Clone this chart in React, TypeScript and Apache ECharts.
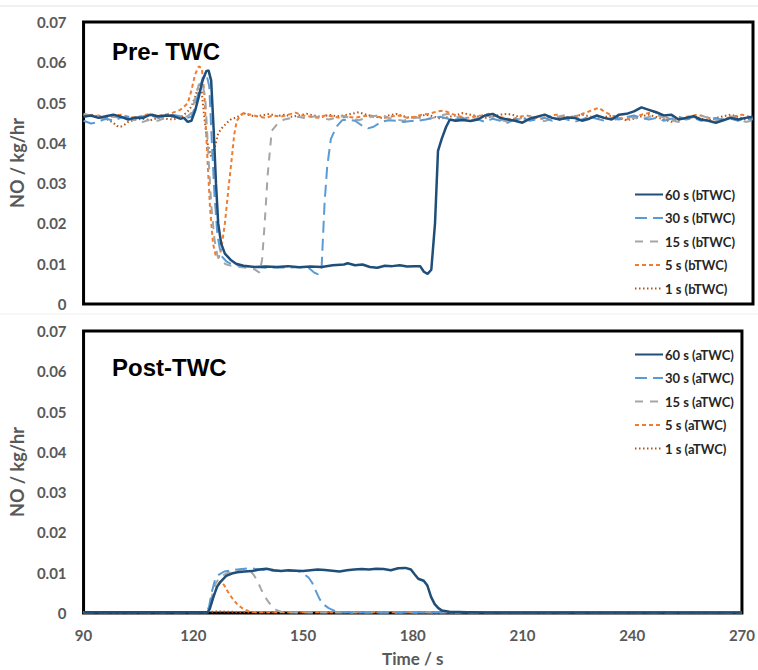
import React, { useEffect, useRef } from "react";
import * as echarts from "echarts";

type P = [number, number];

const xTicks = { min: 90, max: 270, interval: 30 };
const yTicks = { min: 0, max: 0.07, interval: 0.01 };

const panelTitles = ["Pre- TWC", "Post-TWC"];
const namesB = ["60 s (bTWC)", "30 s (bTWC)", "15 s (bTWC)", "5 s (bTWC)", "1 s (bTWC)"];
const namesA = ["60 s (aTWC)", "30 s (aTWC)", "15 s (aTWC)", "5 s (aTWC)", "1 s (aTWC)"];

// ---- Pre-TWC (bTWC) ----
const b60: P[] = [
  [90,0.0465],[92,0.0468],[94,0.0462],[96,0.0466],[98,0.0470],[100,0.0465],[102,0.0458],[104,0.0463],[106,0.0462],[108,0.0470],[110,0.0466],[112,0.0468],[114,0.0467],[116,0.0460],[117,0.0462],[118,0.0452],[119,0.0455],[120,0.0480],[121,0.0515],[122,0.0555],[123,0.0578],[123.6,0.0580],[124.3,0.0555],[125,0.0430],[125.6,0.0300],[126.2,0.0200],[127,0.0150],[128,0.0125],[129.5,0.0110],[131,0.0100],[133,0.0095],[136,0.0092],[139,0.0093],[142,0.0092],[145,0.0094],[148,0.0091],[151,0.0093],[154,0.0092],[157,0.0096],[160,0.0098],[161,0.0101],[163,0.0096],[165,0.0098],[167,0.0092],[169,0.0090],[171,0.0095],[173,0.0094],[175,0.0096],[177,0.0093],[179,0.0094],[180.5,0.0094],[181.5,0.0080],[182.5,0.0075],[183.5,0.0085],[184.5,0.0200],[185.3,0.0380],[186.3,0.0410],[187.5,0.0440],[188.5,0.0458],[190,0.0455],[192,0.0457],[194,0.0454],[196,0.0458],[198,0.0468],[200,0.0472],[202,0.0462],[204,0.0458],[206,0.0455],[208,0.0450],[210,0.0460],[212,0.0465],[214,0.0470],[216,0.0462],[218,0.0458],[220,0.0463],[222,0.0462],[224,0.0455],[226,0.0460],[228,0.0468],[230,0.0462],[232,0.0458],[234,0.0470],[236,0.0472],[238,0.0478],[240,0.0488],[242,0.0482],[244,0.0476],[246,0.0468],[248,0.0470],[250,0.0458],[252,0.0462],[254,0.0466],[256,0.0458],[258,0.0455],[260,0.0450],[262,0.0456],[264,0.0462],[266,0.0458],[268,0.0462],[270,0.0465],
];
const b30: P[] = [
  [90,0.0455],[92,0.0448],[94,0.0452],[96,0.0460],[98,0.0455],[100,0.0462],[102,0.0465],[104,0.0460],[106,0.0466],[108,0.0468],[110,0.0462],[112,0.0465],[114,0.0470],[116,0.0466],[118,0.0462],[119,0.0465],[120,0.0490],[121,0.0530],[122,0.0560],[123,0.0572],[123.8,0.0540],[124.5,0.0400],[125.2,0.0270],[126,0.0170],[127,0.0120],[128.5,0.0105],[130,0.0098],[133,0.0094],[136,0.0092],[139,0.0090],[142,0.0091],[145,0.0090],[148,0.0092],[150.5,0.0090],[152,0.0078],[153,0.0074],[154,0.0090],[154.8,0.0250],[155.5,0.0340],[156.5,0.0410],[158,0.0440],[159.5,0.0456],[161,0.0458],[163,0.0455],[165,0.0442],[166.5,0.0436],[168,0.0440],[170,0.0452],[172,0.0456],[174,0.0455],[176,0.0452],[178,0.0454],[180,0.0455],[182,0.0458],[184,0.0462],[186,0.0465],[188,0.0460],[190,0.0458],[192,0.0462],[194,0.0455],[196,0.0458],[198,0.0452],[200,0.0460],[202,0.0455],[204,0.0450],[206,0.0458],[208,0.0462],[210,0.0455],[212,0.0458],[214,0.0462],[216,0.0455],[218,0.0462],[220,0.0458],[222,0.0452],[224,0.0458],[226,0.0465],[228,0.0460],[230,0.0455],[232,0.0462],[234,0.0458],[236,0.0464],[238,0.0468],[240,0.0462],[242,0.0458],[244,0.0462],[246,0.0455],[248,0.0460],[250,0.0465],[252,0.0458],[254,0.0462],[256,0.0455],[258,0.0458],[260,0.0462],[262,0.0456],[264,0.0460],[266,0.0455],[268,0.0462],[270,0.0458],
];
const b15: P[] = [
  [90,0.0472],[92,0.0468],[94,0.0462],[96,0.0458],[98,0.0465],[100,0.0462],[102,0.0460],[104,0.0456],[106,0.0452],[108,0.0458],[110,0.0455],[112,0.0462],[114,0.0465],[116,0.0462],[118,0.0466],[119,0.0475],[120,0.0510],[121,0.0545],[122,0.0550],[122.8,0.0500],[123.5,0.0380],[124.3,0.0250],[125.2,0.0160],[126,0.0120],[127,0.0105],[128.5,0.0098],[130,0.0094],[132,0.0092],[134,0.0090],[136,0.0086],[137.3,0.0078],[138,0.0110],[138.7,0.0200],[139.5,0.0320],[140.6,0.0430],[142.4,0.0450],[144,0.0458],[146,0.0462],[148,0.0465],[150,0.0460],[152,0.0466],[154,0.0462],[156,0.0458],[158,0.0463],[160,0.0467],[162,0.0460],[164,0.0456],[166,0.0462],[168,0.0466],[170,0.0470],[172,0.0462],[174,0.0458],[176,0.0455],[178,0.0460],[180,0.0463],[182,0.0458],[184,0.0462],[186,0.0468],[188,0.0472],[190,0.0466],[192,0.0460],[194,0.0456],[196,0.0462],[198,0.0468],[200,0.0464],[202,0.0458],[204,0.0452],[206,0.0456],[208,0.0462],[210,0.0466],[212,0.0458],[214,0.0454],[216,0.0460],[218,0.0466],[220,0.0470],[222,0.0464],[224,0.0458],[226,0.0462],[228,0.0468],[230,0.0462],[232,0.0456],[234,0.0460],[236,0.0466],[238,0.0462],[240,0.0458],[242,0.0464],[244,0.0470],[246,0.0462],[248,0.0456],[250,0.0452],[252,0.0458],[254,0.0464],[256,0.0468],[258,0.0462],[260,0.0456],[262,0.0460],[264,0.0466],[266,0.0460],[268,0.0452],[270,0.0456],
];
const b5: P[] = [
  [90,0.0470],[92,0.0466],[94,0.0468],[96,0.0462],[98,0.0466],[100,0.0470],[102,0.0465],[104,0.0462],[106,0.0468],[108,0.0472],[110,0.0466],[112,0.0470],[114,0.0475],[116,0.0482],[117,0.0490],[118,0.0498],[119,0.0530],[120,0.0570],[121,0.0590],[121.8,0.0585],[122.5,0.0520],[123.2,0.0380],[124,0.0240],[124.8,0.0150],[125.6,0.0118],[126.3,0.0114],[127,0.0135],[128,0.0200],[129,0.0290],[129.8,0.0357],[130.5,0.0420],[131.2,0.0455],[132,0.0465],[133,0.0474],[135,0.0470],[137,0.0465],[139,0.0462],[141,0.0468],[143,0.0465],[145,0.0470],[147,0.0475],[149,0.0468],[151,0.0465],[153,0.0462],[155,0.0468],[157,0.0466],[159,0.0462],[161,0.0465],[163,0.0462],[165,0.0466],[167,0.0468],[169,0.0465],[171,0.0462],[173,0.0466],[175,0.0468],[177,0.0462],[179,0.0465],[181,0.0470],[183,0.0472],[185,0.0478],[187,0.0480],[189,0.0472],[191,0.0466],[193,0.0462],[195,0.0465],[197,0.0468],[199,0.0472],[201,0.0466],[203,0.0462],[205,0.0458],[207,0.0464],[209,0.0468],[211,0.0465],[213,0.0460],[215,0.0464],[217,0.0470],[219,0.0466],[221,0.0462],[223,0.0468],[225,0.0475],[227,0.0482],[228.5,0.0487],[230,0.0478],[232,0.0468],[234,0.0462],[236,0.0458],[238,0.0464],[240,0.0470],[242,0.0474],[243.6,0.0477],[245,0.0468],[247,0.0462],[249,0.0458],[251,0.0462],[253,0.0466],[255,0.0470],[257,0.0465],[259,0.0460],[261,0.0456],[263,0.0462],[265,0.0466],[267,0.0470],[269,0.0465],[270,0.0462],
];
const b1: P[] = [
  [90,0.0468],[92,0.0470],[94,0.0465],[96,0.0460],[98,0.0450],[99,0.0442],[100,0.0440],[101,0.0445],[102,0.0452],[104,0.0458],[106,0.0460],[108,0.0456],[110,0.0462],[112,0.0460],[114,0.0458],[116,0.0462],[117,0.0470],[118,0.0478],[119,0.0490],[120,0.0515],[121,0.0543],[121.8,0.0525],[122.5,0.0460],[123.3,0.0400],[124.3,0.0366],[125.2,0.0385],[126.2,0.0424],[127.5,0.0440],[128.8,0.0452],[129.8,0.0460],[131,0.0462],[132,0.0468],[133,0.0474],[134,0.0470],[136,0.0466],[138,0.0468],[140,0.0472],[142,0.0466],[144,0.0470],[146,0.0465],[148,0.0468],[150,0.0472],[152,0.0468],[154,0.0464],[156,0.0470],[158,0.0466],[160,0.0468],[162,0.0472],[164,0.0476],[166,0.0470],[168,0.0465],[170,0.0462],[172,0.0468],[174,0.0472],[176,0.0466],[178,0.0462],[180,0.0465],[182,0.0470],[184,0.0466],[186,0.0460],[188,0.0464],[190,0.0468],[192,0.0474],[194,0.0470],[196,0.0466],[198,0.0462],[200,0.0465],[202,0.0470],[204,0.0472],[206,0.0468],[208,0.0462],[210,0.0458],[212,0.0464],[214,0.0468],[216,0.0462],[218,0.0458],[220,0.0462],[222,0.0466],[224,0.0470],[226,0.0466],[228,0.0460],[230,0.0464],[232,0.0468],[234,0.0462],[236,0.0456],[238,0.0460],[240,0.0466],[242,0.0470],[244,0.0464],[246,0.0458],[248,0.0452],[250,0.0458],[252,0.0462],[254,0.0466],[256,0.0460],[258,0.0456],[260,0.0462],[262,0.0466],[264,0.0470],[266,0.0464],[268,0.0458],[270,0.0462],
];

// ---- Post-TWC (aTWC) ----
const a60: P[] = [
  [90,0.0002],[100,0.0002],[110,0.0002],[120,0.0002],[124,0.0002],[124.5,0.0010],[125.5,0.0040],[126.5,0.0065],[127.5,0.0078],[129,0.0092],[130.5,0.0098],[132,0.0101],[134,0.0103],[136,0.0104],[138,0.0108],[140,0.0110],[142,0.0106],[144,0.0104],[146,0.0106],[148,0.0105],[150,0.0104],[152,0.0106],[154,0.0108],[156,0.0107],[158,0.0105],[160,0.0103],[162,0.0106],[164,0.0108],[166,0.0109],[168,0.0108],[170,0.0110],[172,0.0109],[174,0.0106],[176,0.0111],[178,0.0112],[179.5,0.0108],[180.5,0.0096],[181.5,0.0085],[183,0.0080],[184,0.0068],[185,0.0040],[186,0.0022],[187,0.0012],[188,0.0006],[190,0.0003],[195,0.0002],[200,0.0001],[270,0.0001],
];
const a30: P[] = [
  [90,0.0002],[110,0.0002],[123.5,0.0002],[124.3,0.0015],[125,0.0050],[126,0.0085],[127,0.0095],[128.5,0.0103],[130,0.0105],[132,0.0108],[134,0.0110],[136,0.0111],[138,0.0108],[140,0.0106],[142,0.0105],[144,0.0104],[146,0.0104],[148,0.0105],[149.5,0.0102],[150.5,0.0095],[151.5,0.0088],[152.5,0.0075],[153.5,0.0055],[154.5,0.0035],[155.5,0.0022],[157,0.0012],[158.5,0.0006],[160,0.0002],[165,0.0001],[270,0.0001],
];
const a15: P[] = [
  [90,0.0002],[110,0.0002],[123.8,0.0002],[124.3,0.0010],[125.2,0.0045],[126.2,0.0075],[127.5,0.0090],[129,0.0098],[131,0.0104],[133,0.0108],[134.5,0.0110],[135.5,0.0105],[136.5,0.0095],[137.5,0.0080],[138.5,0.0060],[139.5,0.0042],[140.5,0.0028],[141.5,0.0016],[142.8,0.0007],[144,0.0003],[146,0.0001],[270,0.0001],
];
const a5: P[] = [
  [90,0.0002],[110,0.0002],[123.8,0.0002],[124.2,0.0005],[125,0.0025],[126,0.0055],[127,0.0074],[127.6,0.0078],[128.5,0.0068],[129.5,0.0052],[130.7,0.0036],[132,0.0022],[133.4,0.0012],[135,0.0005],[137,0.0002],[270,0.0002],
];
const a1: P[] = [
  [90,0.0002],[120,0.0002],[124,0.0002],[126,0.0004],[130,0.0003],[135,0.0002],[270,0.0002],
];

const colors = ["#1F4E79", "#5B9BD5", "#A5A5A5", "#ED7D31", "#B4561A"];
const dashes: any[] = ["solid", [12, 6], [8, 7], [4, 3], [1.5, 2.5]];
const widths = [2.5, 2, 2, 2, 2];

const FONT = "Lato, 'Open Sans', sans-serif";
const GRAY = "#595959";

export default function App() {
  const ref = useRef<HTMLDivElement>(null);
  useEffect(() => {
    if (!ref.current) return;
    const chart = echarts.init(ref.current, null, { renderer: "svg" });
    const topData = [b60, b30, b15, b5, b1];
    const botData = [a60, a30, a15, a5, a1];
    const mk = (names: string[], datas: P[][], idx: number) =>
      datas.map((d, i) => ({
        name: names[i],
        type: "line",
        xAxisIndex: idx,
        yAxisIndex: idx,
        data: d,
        symbol: "none",
        smooth: false,
        z: 10 - i,
        lineStyle: { color: colors[i], width: widths[i], type: dashes[i], cap: "butt" },
        itemStyle: { color: colors[i] },
      }));
    const gridTop = [22, 331];
    const legendTops = [183, 343];
    const option: any = {
      animation: false,
      textStyle: { fontFamily: FONT },
      title: panelTitles.map((t, i) => ({
        text: t,
        left: 107,
        top: i === 0 ? 34 : 350,
        textStyle: { fontFamily: "'Liberation Sans', Arial, sans-serif", fontWeight: "bold", fontSize: 24, color: "#000" },
      })),
      graphic: [
        { type: "line", shape: { x1: 0, y1: 6, x2: 758, y2: 6 }, style: { stroke: "#e2e2e2", lineWidth: 1 } },
        { type: "line", shape: { x1: 0, y1: 314, x2: 758, y2: 314 }, style: { stroke: "#f0f0f0", lineWidth: 1 } },
      ],
      legend: [namesB, namesA].map((names, i) => ({
        data: names,
        orient: "vertical",
        left: 629,
        top: legendTops[i],
        itemWidth: 28,
        itemHeight: 14,
        itemGap: 10.5,
        itemStyle: { opacity: 0 },
        textStyle: { fontFamily: FONT, fontWeight: "bold", fontSize: 13, color: "#262626", padding: [0, 0, 0, -3] },
        selectedMode: false,
      })),
      grid: gridTop.map((t) => ({
        left: 82,
        width: 671,
        top: t,
        height: 282,
        show: true,
        borderColor: "#000",
        borderWidth: 3,
        backgroundColor: "transparent",
        containLabel: false,
      })),
      xAxis: [0, 1].map((i) => ({
        type: "value",
        gridIndex: i,
        min: xTicks.min,
        max: xTicks.max,
        interval: xTicks.interval,
        axisLine: { show: false },
        axisTick: { show: false },
        splitLine: { show: false },
        axisLabel: { show: i === 1, fontFamily: FONT, fontWeight: "bold", fontSize: 15, color: GRAY, margin: 14 },
        name: i === 1 ? "Time / s" : "",
        nameLocation: "middle",
        nameGap: 37,
        nameTextStyle: { fontFamily: FONT, fontWeight: "bold", fontSize: 17, color: GRAY },
      })),
      yAxis: [0, 1].map((i) => ({
        type: "value",
        gridIndex: i,
        min: yTicks.min,
        max: yTicks.max,
        interval: yTicks.interval,
        axisLine: { show: false },
        axisTick: { show: false },
        splitLine: { show: false },
        axisLabel: {
          fontFamily: FONT,
          fontWeight: "bold",
          fontSize: 15,
          color: GRAY,
          margin: 17,
          formatter: (v: number) => (v === 0 ? "0" : v.toFixed(2)),
        },
        name: "NO / kg/hr",
        nameLocation: "middle",
        nameGap: 45,
        nameTextStyle: { fontFamily: FONT, fontWeight: "bold", fontSize: 18, color: GRAY },
      })),
      series: [...mk(namesB, topData, 0), ...mk(namesA, botData, 1)],
    };
    chart.setOption(option);
    return () => chart.dispose();
  }, []);
  return <div ref={ref} style={{ position: "fixed", left: 0, top: 0, width: 758, height: 670, background: "#fff" }} />;
}
